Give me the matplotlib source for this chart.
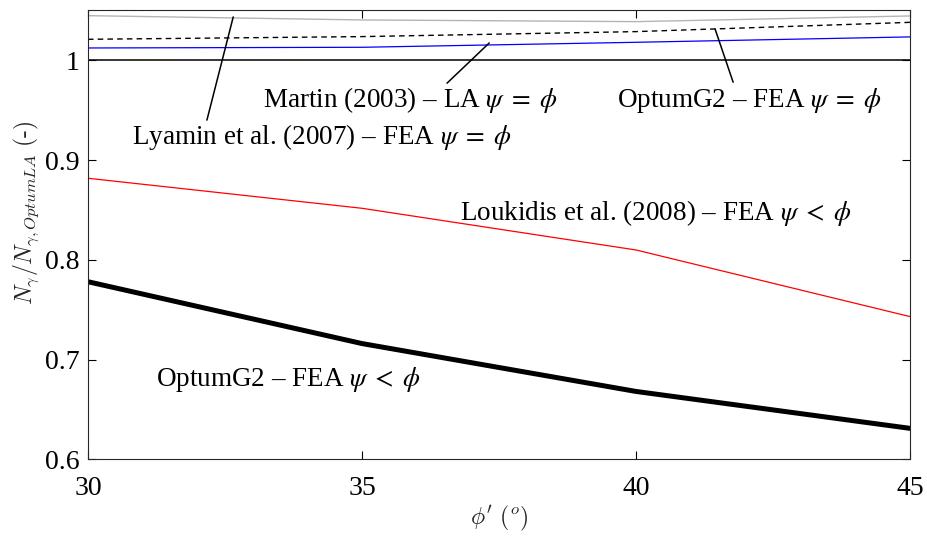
import matplotlib
matplotlib.use("Agg")
import matplotlib.pyplot as plt

# friction angle (deg)
phi = [30, 35, 40, 45]

# normalised N_gamma values
lyamin_2007 = [1.0447, 1.0404, 1.0387, 1.0444]
optum_fea_eq = [1.021, 1.0237, 1.0287, 1.038]
martin_2003 = [1.0123, 1.013, 1.018, 1.0234]
optum_la = [1.0, 1.0, 1.0, 1.0]
loukidis_2008 = [0.8817, 0.8516, 0.8098, 0.743]
optum_fea_lt = [0.778, 0.716, 0.668, 0.631]

plt.rcParams['font.family'] = ['Liberation Serif', 'DejaVu Serif']
plt.rcParams['mathtext.fontset'] = 'cm'

fig = plt.figure(figsize=(9.28, 5.37), dpi=100)
ax = fig.add_axes([0.0948, 0.1447, 0.886, 0.836])

ax.plot(phi, lyamin_2007, color='#b4b4b4', lw=1.0)
ax.plot(phi, optum_fea_eq, color='black', lw=1.0, ls=(0, (4, 3)))
ax.plot(phi, martin_2003, color='blue', lw=0.9)
ax.plot(phi, optum_la, color='black', lw=1.1)
ax.plot(phi, loukidis_2008, color='red', lw=0.9)
ax.plot(phi, optum_fea_lt, color='black', lw=3.6)

ax.set_xlim(30, 45)
ax.set_ylim(0.6, 1.05)
ax.set_xticks([30, 35, 40, 45])
ax.set_yticks([0.6, 0.7, 0.8, 0.9, 1.0])
ax.set_yticklabels(['0.6', '0.7', '0.8', '0.9', '1'])
ax.tick_params(direction='in', length=6, width=0.8, top=True, right=True,
               labelsize=20)
ax.tick_params(axis='x', pad=12)
ax.tick_params(axis='y', pad=6)
for s in ax.spines.values():
    s.set_linewidth(0.8)
    s.set_color('#262626')

ax.set_xlabel(r"$\phi^\prime\ (^o)$", fontsize=17, color='#262626')
ax.set_ylabel(r"$N_\gamma/N_{\gamma,OptumLA}\ (\text{-})$", fontsize=17,
              color='#262626')
ax.xaxis.set_label_coords(0.5, -0.1)
ax.yaxis.set_label_coords(-0.057, 0.55)

# leader lines (from label to curve)
leader = dict(arrowstyle='-', color='black', lw=1.1, shrinkA=0, shrinkB=0)
ax.annotate('', xy=(32.65, 1.0434), xytext=(32.17, 0.94), arrowprops=leader)
ax.annotate('', xy=(37.32, 1.0173), xytext=(36.55, 0.977), arrowprops=leader)
ax.annotate('', xy=(41.44, 1.0314), xytext=(41.77, 0.978), arrowprops=leader)

fs = 19.5
kw = dict(fontsize=fs, va='center', math_fontfamily='stix')
ax.text(30.8, 0.923, r"Lyamin et al. (2007) – FEA $\psi\;=\;\phi$",
        ha='left', **kw)
ax.text(35.88, 0.960, r"Martin (2003) – LA $\psi\;=\;\phi$",
        ha='center', **kw)
ax.text(42.06, 0.960, r"OptumG2 – FEA $\psi\;=\;\phi$",
        ha='center', **kw)
ax.text(40.35, 0.847, r"Loukidis et al. (2008) – FEA $\psi\;<\;\phi$",
        ha='center', **kw)
ax.text(33.65, 0.680, r"OptumG2 – FEA $\psi\;<\;\phi$",
        ha='center', **kw)

fig.savefig("out.png", dpi=100)
